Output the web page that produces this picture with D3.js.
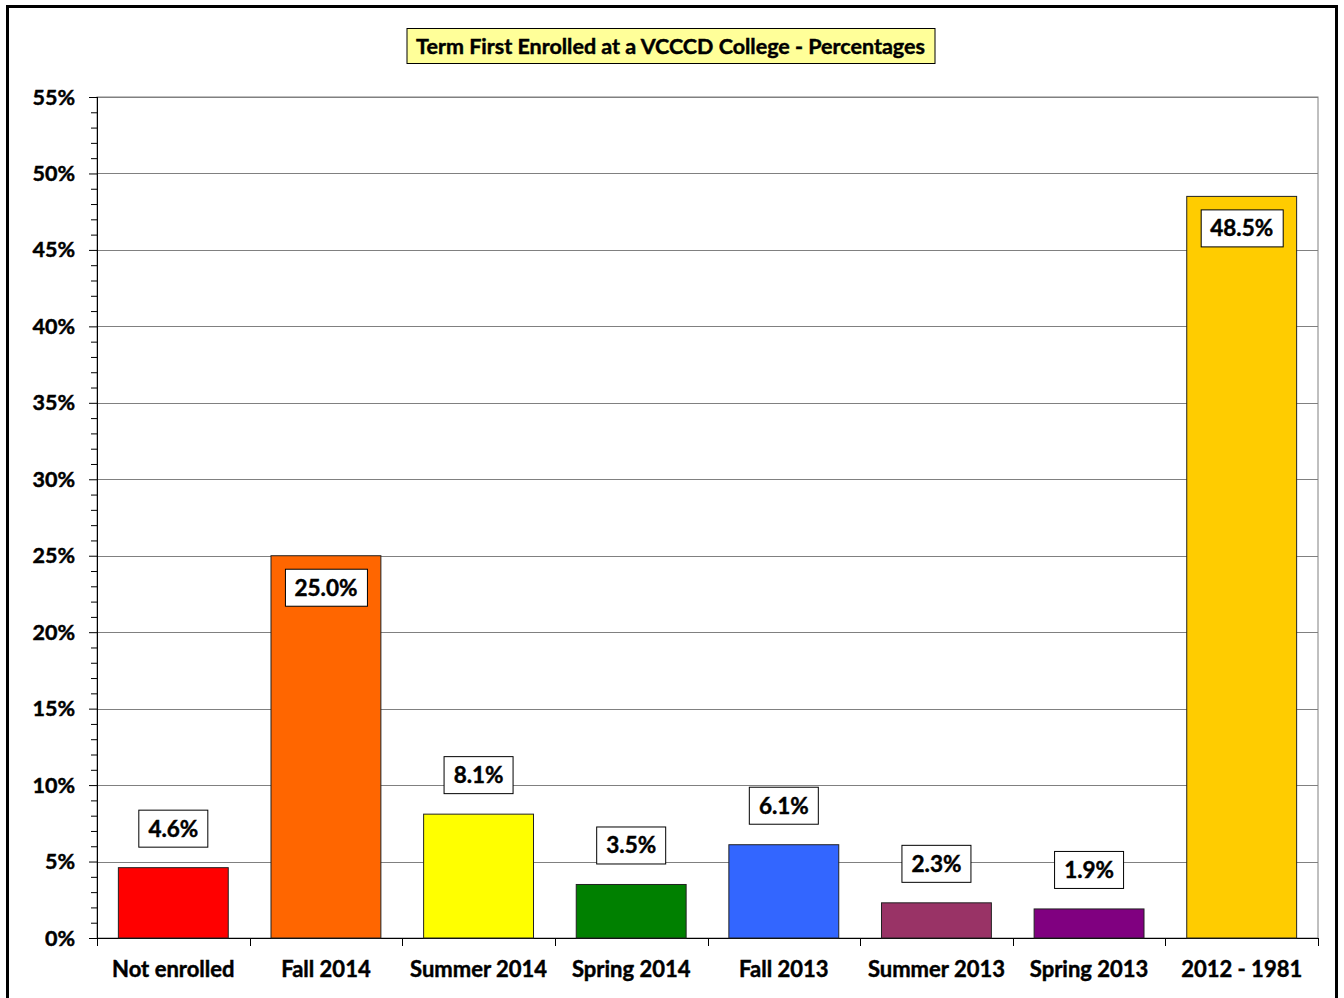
<!DOCTYPE html>
<html>
<head>
<meta charset="utf-8">
<script src="https://cdn.jsdelivr.net/npm/d3@7"></script>
<style>
  body { margin: 0; background: #fff; }
  text { font-family: Lato, 'Open Sans', sans-serif; font-weight: bold; fill: #000; stroke: #000; stroke-width: 0.45px; }
</style>
</head>
<body>
<div id="chart"></div>
<script>
// chart data
const terms = ['Not enrolled', 'Fall 2014', 'Summer 2014', 'Spring 2014', 'Fall 2013', 'Summer 2013', 'Spring 2013', '2012 - 1981']
const shares = [4.6, 25.0, 8.1, 3.5, 6.1, 2.3, 1.9, 48.5]
const barColors = ['#ff0000', '#ff6600', '#ffff00', '#008000', '#3366ff', '#993366', '#800080', '#ffcc00']
const yTicks = [0, 5, 10, 15, 20, 25, 30, 35, 40, 45, 50, 55]
const title = 'Term First Enrolled at a VCCCD College - Percentages'

const width = 1344
const height = 998
const margin = {top: 97, right: 26, bottom: 60, left: 97}

const svg = d3.select('#chart')
  .append('svg')
  .attr('width', width)
  .attr('height', height)

// outer frame
svg.append('rect')
  .attr('x', 7.5)
  .attr('y', 6.5)
  .attr('width', 1329)
  .attr('height', 1010)
  .style('fill', 'none')
  .style('stroke', '#000')
  .style('stroke-width', 3)

const x = d3.scaleBand()
  .domain(terms)
  .range([margin.left, width - margin.right])
  .paddingInner(0.28)
  .paddingOuter(0.14)

const y = d3.scaleLinear()
  .domain([0, 55])
  .range([height - margin.bottom, margin.top])

// plot area border + gridlines
svg.append('rect')
  .attr('x', margin.left)
  .attr('y', y(55))
  .attr('width', width - margin.right - margin.left)
  .attr('height', y(0) - y(55))
  .style('fill', 'none')
  .style('stroke', '#808080')
  .style('stroke-width', 1)

svg.append('g')
  .selectAll('line')
  .data(yTicks.filter(d => d > 0))
  .enter()
  .append('line')
  .attr('x1', margin.left)
  .attr('x2', width - margin.right)
  .attr('y1', d => Math.round(y(d)) + 0.5)
  .attr('y2', d => Math.round(y(d)) + 0.5)
  .style('stroke', '#808080')
  .style('stroke-width', 1)

// y axis with minor ticks
const yAxis = svg.append('g')
  .attr('transform', `translate(${margin.left},0)`)
  .call(d3.axisLeft(y).tickValues(d3.range(0, 56, 1)).tickSize(6).tickFormat(''))
yAxis.selectAll('.tick').filter(d => d % 5 === 0).select('line').attr('x2', -8)
yAxis.selectAll('line, path').style('stroke', '#000')
yAxis.select('.domain').attr('d', `M0.5,${y(55)}V${y(0)}`)

svg.append('g')
  .selectAll('text')
  .data(yTicks)
  .enter()
  .append('text')
  .attr('x', 75)
  .attr('y', d => y(d))
  .attr('dy', '0.35em')
  .attr('text-anchor', 'end')
  .style('font-size', '21.5px')
  .text(d => d + '%')

// x axis
const xAxis = svg.append('g')
  .attr('transform', `translate(0,${y(0)})`)
  .call(d3.axisBottom(x).tickSize(0).tickFormat(''))
xAxis.selectAll('line, path').style('stroke', '#000')
const step = x.step()
svg.append('g')
  .selectAll('line')
  .data(d3.range(terms.length + 1))
  .enter()
  .append('line')
  .attr('x1', i => Math.round(margin.left + i * step) + 0.5)
  .attr('x2', i => Math.round(margin.left + i * step) + 0.5)
  .attr('y1', y(0))
  .attr('y2', y(0) + 8)
  .style('stroke', '#000')

svg.append('g')
  .selectAll('text')
  .data(terms)
  .enter()
  .append('text')
  .attr('x', d => x(d) + x.bandwidth() / 2)
  .attr('y', y(0) + 39)
  .attr('text-anchor', 'middle')
  .style('font-size', '22px')
  .text(d => d)

// bars
svg.append('g')
  .selectAll('rect')
  .data(shares)
  .enter()
  .append('rect')
  .attr('x', (d, i) => x(terms[i]))
  .attr('y', d => y(d))
  .attr('width', x.bandwidth())
  .attr('height', d => y(0) - y(d))
  .style('fill', (d, i) => barColors[i])
  .style('stroke', '#222')
  .style('stroke-width', 1)

// value labels
const labels = svg.append('g')
  .selectAll('g')
  .data(shares)
  .enter()
  .append('g')
  .attr('transform', (d, i) => {
    const cx = x(terms[i]) + x.bandwidth() / 2
    const cy = d > 20 ? y(d) + 32 : y(d) - 39
    return `translate(${cx},${cy})`
  })
labels.append('text')
  .attr('text-anchor', 'middle')
  .attr('dy', '0.35em')
  .style('font-size', '22.5px')
  .text(d => d.toFixed(1) + '%')
labels.each(function () {
  const g = d3.select(this)
  const bb = g.select('text').node().getBBox()
  g.insert('rect', 'text')
    .attr('x', -Math.round(bb.width / 2) - 9.5)
    .attr('y', -18.5)
    .attr('width', Math.round(bb.width) + 19)
    .attr('height', 37)
    .style('fill', '#fff')
    .style('stroke', '#000')
    .style('stroke-width', 1)
})

// title
const tg = svg.append('g').attr('transform', `translate(${(401 + 940) / 2},46)`)
const tt = tg.append('text')
  .attr('text-anchor', 'middle')
  .attr('dy', '0.35em')
  .style('font-size', '21.5px')
  .text(title)
const tb = tt.node().getBBox()
tg.insert('rect', 'text')
  .attr('x', -Math.round(tb.width / 2) - 9.5)
  .attr('y', -17.5)
  .attr('width', Math.round(tb.width) + 19)
  .attr('height', 35)
  .style('fill', '#ffff99')
  .style('stroke', '#000')
  .style('stroke-width', 1)
</script>
</body>
</html>
